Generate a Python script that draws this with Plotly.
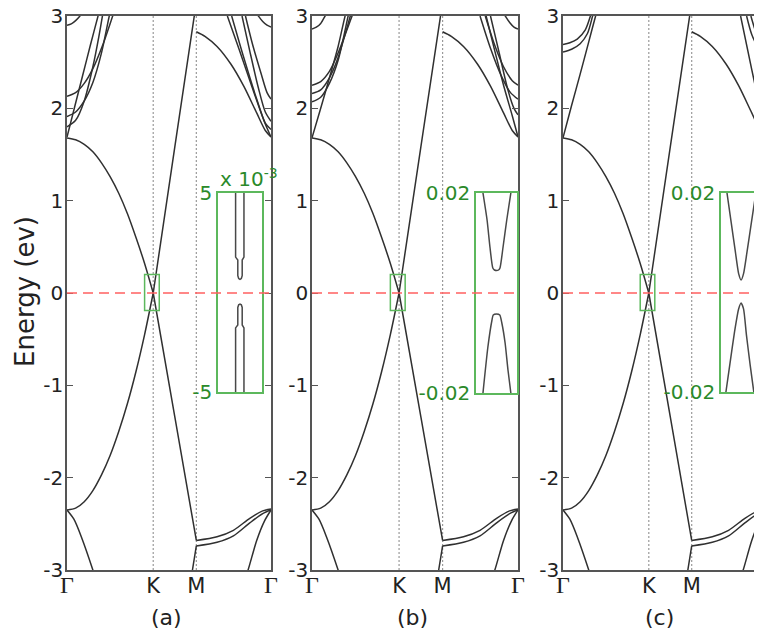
import plotly.graph_objects as go

# ---------------- data (k: Γ=0, K=1, M=1.5, Γ=2.366 ; E in eV) ----------------
GK_K = [0, 0.1, 0.2, 0.3, 0.4, 0.5, 0.6, 0.7, 0.8, 0.9, 1.0]
VAL_GK_E = [-2.35, -2.33, -2.26, -2.14, -1.97, -1.76, -1.50, -1.20, -0.85, -0.45, 0.0]
CON_GK_E = [1.68, 1.66, 1.61, 1.53, 1.41, 1.26, 1.08, 0.86, 0.60, 0.32, 0.0]
KM_K = [1.0, 1.25, 1.5]
UP_KM_E = [0.0, 1.58, 3.15]
DN_KM_E = [0.0, -1.34, -2.68]
MG_K = [1.5, 1.74, 1.93, 2.12, 2.27, 2.366]
LOW1_MG_E = [-2.68, -2.64, -2.57, -2.44, -2.36, -2.34]
LOW2_MG_E = [-2.74, -2.70, -2.63, -2.49, -2.39, -2.35]
TAIL_M_K = [1.43, 1.455, 1.5]
TAIL_M_E = [-3.15, -3.0, -2.74]
DROP_GL_K = [0, 0.08, 0.17, 0.3, 0.34]
DROP_GL_E = [-2.35, -2.45, -2.65, -3.0, -3.12]
DROP_GR_K = [2.366, 2.29, 2.2, 2.1, 2.06]
DROP_GR_E = [-2.35, -2.47, -2.68, -3.0, -3.1]
MB_K = [1.5, 1.6, 1.74, 1.9, 2.05, 2.2, 2.3, 2.366]
MB_E = [2.83, 2.78, 2.67, 2.48, 2.24, 1.95, 1.76, 1.69]

# panel (a) upper bands
A_GL1_K = [0, 0.09, 0.18, 0.27, 0.36, 0.4];        A_GL1_E = [1.69, 2.02, 2.35, 2.68, 3.0, 3.14]
A_GL2_K = [0, 0.1, 0.2, 0.3, 0.37, 0.42];          A_GL2_E = [1.80, 1.87, 2.08, 2.45, 2.78, 3.05]
A_GL3_K = [0, 0.1, 0.2, 0.3, 0.4, 0.49, 0.52];     A_GL3_E = [1.91, 1.96, 2.08, 2.28, 2.6, 3.0, 3.12]
A_GL4_K = [0, 0.1, 0.2, 0.3, 0.42, 0.53, 0.56];    A_GL4_E = [2.13, 2.17, 2.27, 2.43, 2.7, 3.0, 3.08]
A_GL5_K = [0, 0.05, 0.1, 0.15, 0.18];              A_GL5_E = [2.90, 2.915, 2.95, 3.0, 3.04]
A_GR1_K = [1.86, 2.0, 2.15, 2.3, 2.366];           A_GR1_E = [3.0, 2.63, 2.22, 1.83, 1.69]
A_GR2_K = [1.91, 2.05, 2.2, 2.3, 2.366];           A_GR2_E = [3.0, 2.55, 2.1, 1.84, 1.77]
A_GR3_K = [2.03, 2.12, 2.22, 2.3, 2.366];          A_GR3_E = [3.0, 2.62, 2.22, 1.96, 1.86]
A_GR4_K = [2.07, 2.15, 2.25, 2.32, 2.366];         A_GR4_E = [3.0, 2.7, 2.38, 2.17, 2.10]
A_GR5_K = [2.366, 2.32, 2.27, 2.22, 2.19];         A_GR5_E = [2.88, 2.9, 2.94, 3.0, 3.04]

# panel (b) upper bands
B_GL1_K = [0, 0.1, 0.2, 0.3, 0.38, 0.42];          B_GL1_E = [1.68, 2.0, 2.33, 2.67, 3.0, 3.13]
B_GL2_K = [0, 0.1, 0.2, 0.3, 0.415, 0.44];         B_GL2_E = [2.07, 2.12, 2.27, 2.52, 3.0, 3.1]
B_GL3_K = [0, 0.1, 0.2, 0.3, 0.44, 0.47];          B_GL3_E = [2.16, 2.2, 2.33, 2.55, 3.0, 3.1]
B_GL4_K = [0, 0.1, 0.2, 0.3, 0.46, 0.5];           B_GL4_E = [2.25, 2.29, 2.4, 2.6, 3.0, 3.1]
B_GL5_K = [0, 0.05, 0.1, 0.15, 0.18];              B_GL5_E = [2.86, 2.88, 2.92, 3.0, 3.05]
B_GR1_K = [2.0, 2.1, 2.2, 2.3, 2.366];             B_GR1_E = [3.0, 2.62, 2.25, 1.92, 1.69]
B_GR2_K = [1.93, 2.05, 2.17, 2.28, 2.366];         B_GR2_E = [3.0, 2.65, 2.36, 2.17, 2.10]
B_GR3_K = [1.99, 2.1, 2.2, 2.3, 2.366];            B_GR3_E = [3.0, 2.68, 2.45, 2.3, 2.25]
B_GR4_K = [2.05, 2.15, 2.25, 2.32, 2.366];         B_GR4_E = [3.0, 2.6, 2.2, 2.0, 1.93]
B_GR5_K = [2.366, 2.32, 2.27, 2.22, 2.19];         B_GR5_E = [2.86, 2.88, 2.93, 3.0, 3.04]

# panel (c) upper bands
C_GL1_K = [0, 0.1, 0.2, 0.3, 0.38, 0.41];          C_GL1_E = [1.68, 2.03, 2.37, 2.72, 3.0, 3.1]
C_GL2_K = [0, 0.08, 0.166, 0.26, 0.32, 0.34];      C_GL2_E = [2.69, 2.71, 2.75, 2.85, 3.0, 3.06]
C_GL3_K = [0, 0.1, 0.2, 0.285, 0.345, 0.36];       C_GL3_E = [2.61, 2.64, 2.70, 2.81, 3.0, 3.05]
C_GR1_K = [2.07, 2.2, 2.3, 2.366];                 C_GR1_E = [3.0, 2.42, 1.98, 1.69]
C_GR2_K = [2.19, 2.25, 2.3, 2.34, 2.366];          C_GR2_E = [3.0, 2.82, 2.73, 2.69, 2.68]
C_GR3_K = [2.14, 2.2, 2.27, 2.33, 2.366];          C_GR3_E = [3.0, 2.8, 2.67, 2.62, 2.61]

# insets (x: arbitrary 0..1 across box; y: energy in eV)
INS_A_UP_X = [0.40, 0.40, 0.45, 0.45, 0.47, 0.50, 0.53, 0.55, 0.55, 0.59, 0.59]
INS_A_UP_Y = [5, 1.78, 1.63, 0.85, 0.70, 0.66, 0.70, 0.85, 1.63, 1.78, 5]
INS_A_DN_X = [0.40, 0.40, 0.45, 0.45, 0.47, 0.50, 0.53, 0.55, 0.55, 0.59, 0.59]
INS_A_DN_Y = [-5, -1.78, -1.63, -0.75, -0.62, -0.58, -0.62, -0.75, -1.63, -1.78, -5]
INS_B_UP_X = [0.17, 0.27, 0.34, 0.41, 0.45, 0.50, 0.55, 0.585, 0.66, 0.75, 0.85]
INS_B_UP_Y = [0.02, 0.0146, 0.0092, 0.0050, 0.0046, 0.0045, 0.0046, 0.0050, 0.0092, 0.0146, 0.02]
INS_B_DN_X = [0.17, 0.29, 0.39, 0.42, 0.50, 0.58, 0.63, 0.71, 0.78, 0.85]
INS_B_DN_Y = [-0.02, -0.0108, -0.0054, -0.0044, -0.0042, -0.0044, -0.0060, -0.0100, -0.0154, -0.02]
INS_C_UP_X = [0.146, 0.25, 0.35, 0.43, 0.49, 0.55, 0.63, 0.74, 0.85]
INS_C_UP_Y = [0.02, 0.014, 0.0082, 0.0038, 0.0025, 0.0038, 0.0079, 0.014, 0.02]
INS_C_DN_X = [0.12, 0.22, 0.33, 0.43, 0.49, 0.55, 0.62, 0.71, 0.80]
INS_C_DN_Y = [-0.02, -0.0142, -0.0079, -0.0033, -0.0021, -0.0033, -0.0085, -0.0145, -0.02]

K_TICKS = [0, 1.0, 1.5, 2.366]
PANEL_LABELS = ["(a)", "(b)", "(c)"]
E_TICKS = [-3, -2, -1, 0, 1, 2, 3]
E_TICKTEXT = ["-3", "-2", "-1", "0", "1", "2", "3"]

# ---------------- layout geometry (screen px of the reference, page margin removed) ----------------
W, H = 762, 640
OFF = 8  # default page margin of the html body
PANEL_PX = [(67, 271), (312, 518), (563, 766)]
TOP_PX, BOT_PX = 16, 570
INSET_PX = [((218, 262), (193, 392)), ((476, 517), (193, 393)), ((721, 762), (193, 392))]
INSET_RANGES = [[-5, 5], [-0.02, 0.02], [-0.02, 0.02]]
INSET_TICKTEXT = [["-5", "5"], ["-0.02", "0.02"], ["-0.02", "0.02"]]


def fx(px):
    return (px - OFF) / W


def fy(py):
    return 1 - (py - OFF) / H


FONT = "DejaVu Sans"
BAND_COLOR = "#303030"
GREEN_LINE = "#5cb85c"
GREEN_TEXT = "#2a8a2a"

common = [
    (GK_K, VAL_GK_E), (GK_K, CON_GK_E), (KM_K, UP_KM_E), (KM_K, DN_KM_E),
    (MG_K, LOW1_MG_E), (MG_K, LOW2_MG_E), (TAIL_M_K, TAIL_M_E),
    (DROP_GL_K, DROP_GL_E), (DROP_GR_K, DROP_GR_E), (MB_K, MB_E),
]
upper = [
    [(A_GL1_K, A_GL1_E), (A_GL2_K, A_GL2_E), (A_GL3_K, A_GL3_E), (A_GL4_K, A_GL4_E), (A_GL5_K, A_GL5_E),
     (A_GR1_K, A_GR1_E), (A_GR2_K, A_GR2_E), (A_GR3_K, A_GR3_E), (A_GR4_K, A_GR4_E), (A_GR5_K, A_GR5_E)],
    [(B_GL1_K, B_GL1_E), (B_GL2_K, B_GL2_E), (B_GL3_K, B_GL3_E), (B_GL4_K, B_GL4_E), (B_GL5_K, B_GL5_E),
     (B_GR1_K, B_GR1_E), (B_GR2_K, B_GR2_E), (B_GR3_K, B_GR3_E), (B_GR4_K, B_GR4_E), (B_GR5_K, B_GR5_E)],
    [(C_GL1_K, C_GL1_E), (C_GL2_K, C_GL2_E), (C_GL3_K, C_GL3_E),
     (C_GR1_K, C_GR1_E), (C_GR2_K, C_GR2_E), (C_GR3_K, C_GR3_E)],
]
insets = [
    [(INS_A_UP_X, INS_A_UP_Y), (INS_A_DN_X, INS_A_DN_Y)],
    [(INS_B_UP_X, INS_B_UP_Y), (INS_B_DN_X, INS_B_DN_Y)],
    [(INS_C_UP_X, INS_C_UP_Y), (INS_C_DN_X, INS_C_DN_Y)],
]

fig = go.Figure()
gamma = '<span style="font-family:Liberation Serif, serif;font-size:24px">Γ</span>'
layout = dict(
    width=W, height=H, margin=dict(l=0, r=0, t=0, b=0, autoexpand=False),
    paper_bgcolor="white", plot_bgcolor="white", showlegend=False,
    font=dict(family=FONT, size=21, color="#222"),
)
shapes, annotations = [], []

for p in range(3):
    xa, ya = f"x{p + 1}", f"y{p + 1}"
    xi, yi = f"x{p + 4}", f"y{p + 4}"
    for kk, ee in common + upper[p]:
        fig.add_trace(go.Scatter(x=kk, y=ee, mode="lines", xaxis=xa, yaxis=ya,
                                 line=dict(color=BAND_COLOR, width=1.5, shape="spline", smoothing=0.8),
                                 hoverinfo="skip"))
    for xx, yy in insets[p]:
        shape = "linear" if p == 0 else "spline"
        fig.add_trace(go.Scatter(x=xx, y=yy, mode="lines", xaxis=xi, yaxis=yi,
                                 line=dict(color="#484848", width=1.5, shape=shape, smoothing=0.6),
                                 hoverinfo="skip"))
    x0, x1 = PANEL_PX[p]
    layout[f"xaxis{p + 1}"] = dict(
        domain=[fx(x0), min(fx(x1), 1.0)], range=[0, 2.366], anchor=ya, automargin=False,
        tickvals=K_TICKS, ticktext=[gamma, "K", "M", gamma], ticks="", ticklabelstandoff=-4,
        ticklabeloverflow="allow",
        showline=True, linecolor="#555", linewidth=1.5, mirror=True,
        showgrid=False, zeroline=False, tickfont=dict(family=FONT, size=21, color="#222"),
    )
    layout[f"yaxis{p + 1}"] = dict(
        domain=[fy(BOT_PX), fy(TOP_PX)], range=[-3, 3], anchor=xa, automargin=False,
        tickvals=E_TICKS, ticktext=E_TICKTEXT, ticks="inside", ticklen=6, tickwidth=1.3,
        ticklabeloverflow="allow", ticklabelstandoff=-2,
        tickcolor="#555", showline=True, linecolor="#555", linewidth=1.5, mirror="ticks",
        showgrid=False, zeroline=False, tickfont=dict(family=FONT, size=20, color="#222"),
    )
    (ix0, ix1), (iy0, iy1) = INSET_PX[p]
    layout[f"xaxis{p + 4}"] = dict(
        domain=[fx(ix0), min(fx(ix1), 1.0)], range=[0, 1], anchor=yi, automargin=False,
        showticklabels=False, ticks="", showline=True, linecolor=GREEN_LINE, linewidth=1.5,
        mirror=True, showgrid=False, zeroline=False,
    )
    layout[f"yaxis{p + 4}"] = dict(
        domain=[fy(iy1), fy(iy0)], range=INSET_RANGES[p], anchor=xi, automargin=False,
        tickvals=INSET_RANGES[p], ticktext=INSET_TICKTEXT[p], ticks="", ticklabeloverflow="allow",
        showline=True, linecolor=GREEN_LINE, linewidth=1.5, mirror=True,
        showgrid=False, zeroline=False, tickfont=dict(family=FONT, size=20, color=GREEN_TEXT),
    )
    # Fermi level, K and M markers
    shapes.append(dict(type="line", xref=xa, yref=ya, x0=0, x1=2.366, y0=0, y1=0,
                       line=dict(color="#ff6060", width=1.6, dash="10px,6px"), layer="above"))
    for kv in (1.0, 1.5):
        shapes.append(dict(type="line", xref=xa, yref=ya, x0=kv, x1=kv, y0=-3, y1=3,
                           line=dict(color="#9a9a9a", width=1.2, dash="2px,2px"), layer="below"))
    shapes.append(dict(type="rect", xref=xa, yref=ya, x0=0.9, x1=1.07, y0=-0.19, y1=0.2,
                       line=dict(color=GREEN_LINE, width=1.5), layer="above"))
    annotations.append(dict(text=PANEL_LABELS[p], xref="paper", yref="paper",
                            x=fx((x0 + min(x1, 762)) / 2 - 3), y=fy(617), showarrow=False,
                            font=dict(family=FONT, size=22, color="#222"), xanchor="center", yanchor="middle"))

annotations.append(dict(text="Energy (ev)", xref="paper", yref="paper", x=fx(25), y=fy(292),
                        textangle=-90, showarrow=False, xanchor="center", yanchor="middle",
                        font=dict(family=FONT, size=26, color="#222")))
annotations.append(dict(text="x 10<sup>-3</sup>", xref="paper", yref="paper", x=fx(218), y=fy(178),
                        showarrow=False, xanchor="left", yanchor="middle",
                        font=dict(family=FONT, size=20, color=GREEN_TEXT)))

layout["shapes"] = shapes
layout["annotations"] = annotations
fig.update_layout(**layout)
fig.write_html("out.html")
